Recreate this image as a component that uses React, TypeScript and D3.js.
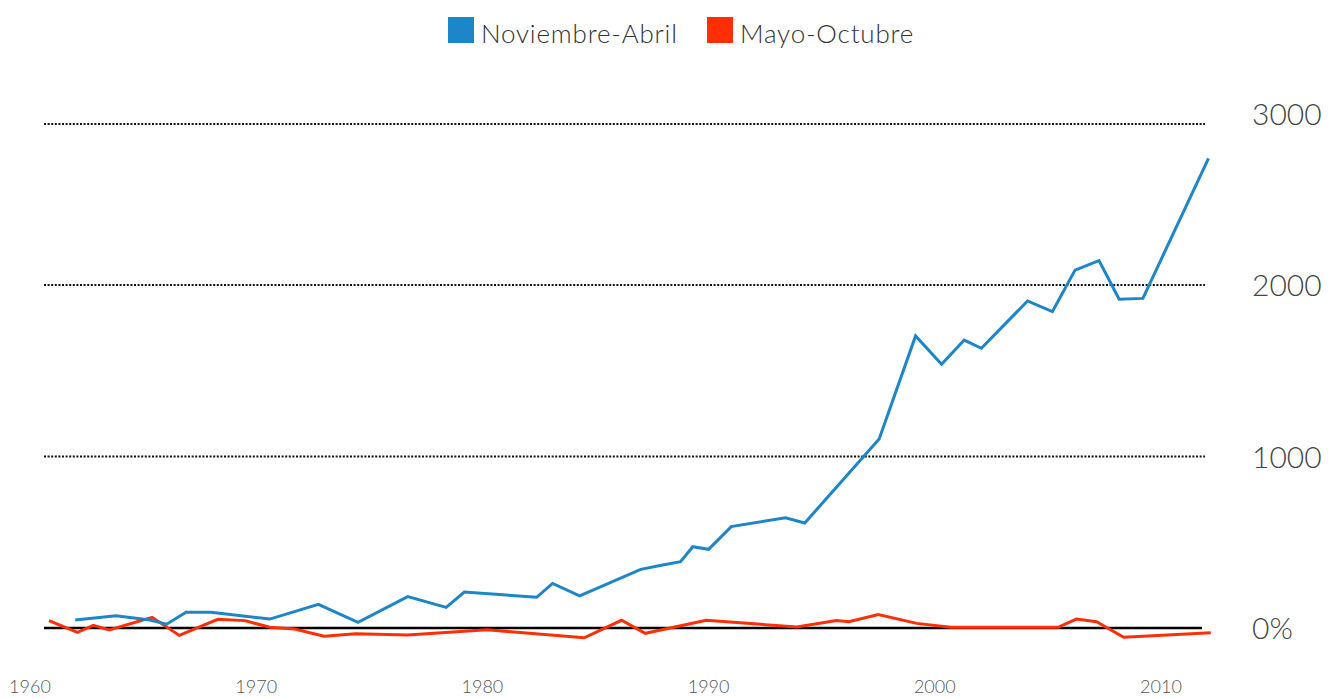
import React from "react";
import * as d3 from "d3";

// values (decimal years, % change)
const novAbrYears = [1962, 1963.8, 1965.3, 1966.04, 1966.9, 1968, 1970.6, 1972.75, 1974.5, 1976.7, 1978.4, 1979.2, 1982.4, 1983.1, 1984.3, 1987.0, 1987.8, 1988.76, 1989.3, 1990.0, 1991.0, 1993.4, 1994.25, 1997.54, 1999.15, 2000.3, 2001.3, 2002.06, 2004.1, 2005.2, 2006.2, 2007.26, 2008.15, 2009.2, 2012.1];
const novAbrValues = [47, 72, 47, 22, 92, 92, 52, 138, 33, 183, 120, 210, 179, 260, 187, 342, 363, 387, 474, 459, 591, 643, 612, 1102, 1703, 1538, 1679, 1631, 1907, 1845, 2087, 2142, 1917, 1922, 2739];

const mayOctYears = [1960.84, 1962.1, 1962.8, 1963.5, 1965.4, 1966.6, 1968.3, 1969.5, 1970.6, 1971.7, 1973.0, 1974.4, 1976.7, 1980.2, 1984.5, 1986.15, 1987.2, 1989.9, 1993.9, 1995.65, 1996.2, 1997.5, 1999.2, 2000.7, 2005.45, 2006.26, 2007.15, 2008.35, 2012.2];
const mayOctValues = [43, -25, 16, -12, 62, -43, 51, 43, 4, -6, -48, -33, -41, -10, -57, 45, -31, 45, 6, 43, 37, 78, 27, 4, 4, 52, 37, -54, -27];

const yTicks = [0, 1000, 2000, 3000];
const yTickLabels = ["0%", "1000", "2000", "3000"];
const xTicks = [1960, 1970, 1980, 1990, 2000, 2010];

const seriesNames = ["Noviembre-Abril", "Mayo-Octubre"];
const seriesColors = ["#1c86c8", "#ff2e05"];

const W = 1328;
const H = 698;
const font = "Lato, 'Open Sans', sans-serif";

export default function App() {
  const x = d3.scaleLinear().domain([1960, 2010]).range([30, 1161]);
  const y = d3.scaleLinear().domain([0, 2000]).range([628, 285]);
  const plotTop = 124;

  const line = d3
    .line<[number, number]>()
    .x((d) => x(d[0]))
    .y((d) => y(d[1]));

  const blue = novAbrYears.map((yr, i) => [yr, novAbrValues[i]] as [number, number]);
  const red = mayOctYears.map((yr, i) => [yr, mayOctValues[i]] as [number, number]);

  return (
    <svg width={W} height={H} style={{ position: "absolute", left: 0, top: 0, background: "#fff" }}>
      {/* legend */}
      <g>
        <rect x={448} y={17} width={26} height={26} fill={seriesColors[0]} />
        <text x={481} y={43} fontFamily={font} fontWeight={300} fontSize={26} letterSpacing={0.8} fill="#333">
          {seriesNames[0]}
        </text>
        <rect x={707} y={17} width={26} height={26} fill={seriesColors[1]} />
        <text x={740} y={43} fontFamily={font} fontWeight={300} fontSize={26} letterSpacing={0.8} fill="#333">
          {seriesNames[1]}
        </text>
      </g>

      {/* grid lines */}
      {yTicks.slice(1).map((t) => (
        <line
          key={t}
          x1={44}
          x2={1205}
          y1={Math.max(y(t), plotTop)}
          y2={Math.max(y(t), plotTop)}
          stroke="#111"
          strokeWidth={2}
          strokeDasharray="2 1.6"
        />
      ))}
      <line x1={44} x2={1202} y1={y(0)} y2={y(0)} stroke="#000" strokeWidth={2.5} />

      {/* y labels */}
      {yTicks.map((t, i) => (
        <text
          key={t}
          x={1252}
          y={y(t) + 11}
          fontFamily={font}
          fontWeight={300}
          fontSize={30}
          fill="#444"
        >
          {yTickLabels[i]}
        </text>
      ))}

      {/* x labels */}
      {xTicks.map((t) => (
        <text
          key={t}
          x={x(t)}
          y={693}
          textAnchor="middle"
          fontFamily={font}
          fontWeight={300}
          fontSize={18}
          fill="#555"
        >
          {t}
        </text>
      ))}

      {/* series */}
      <path d={line(red) ?? ""} fill="none" stroke={seriesColors[1]} strokeWidth={3} />
      <path d={line(blue) ?? ""} fill="none" stroke={seriesColors[0]} strokeWidth={3} />
    </svg>
  );
}
